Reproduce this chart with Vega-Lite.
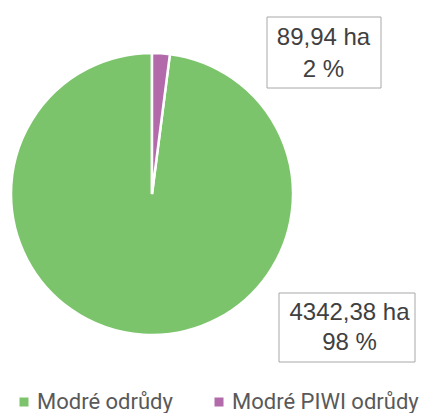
{
  "$schema": "https://vega.github.io/schema/vega-lite/v6.json",
  "width": 304,
  "height": 388,
  "autosize": {"type": "none"},
  "padding": {"left": 0, "top": 0, "right": 117, "bottom": 25},
  "background": "white",
  "data": {
    "values": [
      {"odruda": "Modré odrůdy", "plocha": 4342.38, "podil": 98, "popisek": ["4342,38 ha", "98 %"]},
      {"odruda": "Modré PIWI odrůdy", "plocha": 89.94, "podil": 2, "popisek": ["89,94 ha", "2 %"]}
    ]
  },
  "layer": [
    {
      "mark": {"type": "arc", "outerRadius": 141, "stroke": "white", "strokeWidth": 2.5},
      "encoding": {
        "theta": {"field": "plocha", "type": "quantitative", "stack": true},
        "order": {"field": "plocha", "sort": "ascending"},
        "color": {
          "field": "odruda",
          "type": "nominal",
          "scale": {"domain": ["Modré odrůdy", "Modré PIWI odrůdy"], "range": ["#7cc46c", "#b36aab"]},
          "legend": {
            "title": null,
            "orient": "none",
            "direction": "horizontal",
            "legendX": 13,
            "legendY": 391,
            "symbolType": "square",
            "symbolSize": 81,
            "symbolStrokeWidth": 0,
            "labelFont": "Roboto",
            "labelFontSize": 22,
            "labelColor": "#595959",
            "labelOffset": 2,
            "columnPadding": 35,
            "labelLimit": 400
          }
        }
      }
    },
    {
      "transform": [{"filter": "datum.odruda === 'Modré PIWI odrůdy'"}],
      "mark": {
        "type": "point",
        "shape": "M2.30,-3.54H4.58V-2.12H2.30Z",
        "size": 10000,
        "filled": false,
        "stroke": "#a8a8a8",
        "strokeWidth": 1,
        "opacity": 1
      },
      "encoding": {}
    },
    {
      "transform": [{"filter": "datum.odruda === 'Modré PIWI odrůdy'"}],
      "mark": {
        "type": "text",
        "font": "Liberation Sans",
        "fontSize": 24,
        "color": "#404040",
        "align": "center",
        "baseline": "middle",
        "lineHeight": 32,
        "dx": 171.5,
        "dy": -156.5
      },
      "encoding": {"text": {"field": "popisek", "type": "nominal"}}
    },
    {
      "transform": [{"filter": "datum.odruda === 'Modré odrůdy'"}],
      "mark": {
        "type": "point",
        "shape": "M2.54,1.98H5.26V3.36H2.54Z",
        "size": 10000,
        "filled": false,
        "stroke": "#a8a8a8",
        "strokeWidth": 1,
        "opacity": 1
      },
      "encoding": {}
    },
    {
      "transform": [{"filter": "datum.odruda === 'Modré odrůdy'"}],
      "mark": {
        "type": "text",
        "font": "Liberation Sans",
        "fontSize": 24,
        "color": "#404040",
        "align": "center",
        "baseline": "middle",
        "lineHeight": 30,
        "dx": 197.5,
        "dy": 119
      },
      "encoding": {"text": {"field": "popisek", "type": "nominal"}}
    }
  ],
  "config": {"view": {"stroke": null}}
}
